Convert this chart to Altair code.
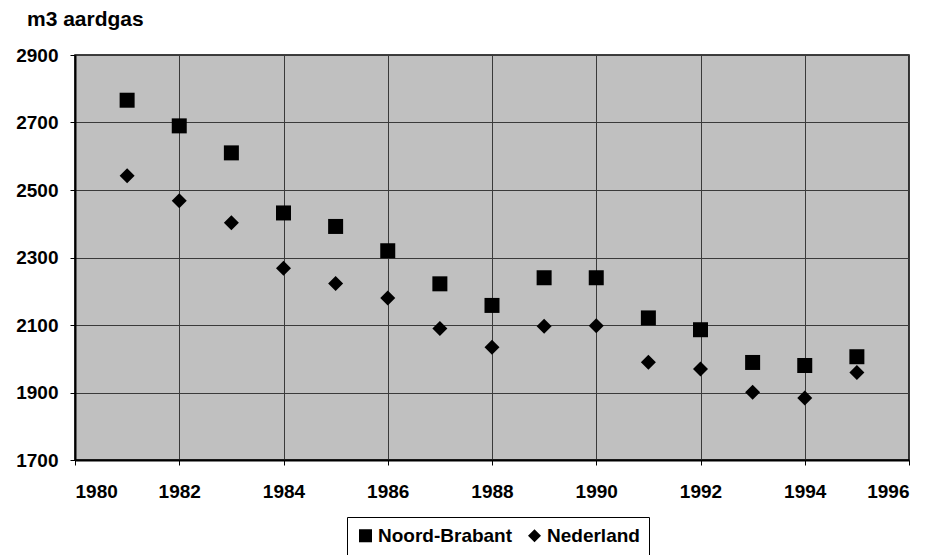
import altair as alt
import pandas as pd

# Gas use per connection (m3 aardgas), 1981-1995
years = list(range(1981, 1996))
noord_brabant = [2766, 2690, 2610, 2432, 2392, 2320, 2222, 2158, 2240, 2240,
                 2121, 2086, 1989, 1980, 2006]
nederland = [2542, 2468, 2403, 2268, 2223, 2180, 2090, 2034, 2096, 2098,
             1990, 1970, 1901, 1884, 1959]
series_names = ["Noord-Brabant", "Nederland"]
x_ticks = list(range(1980, 1997, 2))
y_ticks = list(range(1700, 2901, 200))

df = pd.concat([
    pd.DataFrame({"jaar": years, "m3": noord_brabant, "reeks": series_names[0]}),
    pd.DataFrame({"jaar": years, "m3": nederland, "reeks": series_names[1]}),
])

FONT = "Liberation Sans"

points = alt.Chart(df).mark_point(filled=True, opacity=1, color="black", size=225).encode(
    x=alt.X("jaar:Q",
            scale=alt.Scale(domain=[1980, 1996], nice=False, zero=False),
            axis=alt.Axis(values=x_ticks, format="d", title=None)),
    y=alt.Y("m3:Q",
            scale=alt.Scale(domain=[1700, 2900], nice=False, zero=False),
            axis=alt.Axis(values=y_ticks, format="d", title=None)),
    shape=alt.Shape("reeks:N",
                    scale=alt.Scale(domain=series_names, range=["square", "diamond"]),
                    legend=alt.Legend(title=None, orient="none", direction="horizontal",
                                      legendX=272, legendY=462,
                                      symbolSize=170, symbolFillColor="black",
                                      symbolStrokeColor="black", symbolStrokeWidth=0,
                                      labelFont=FONT, labelFontSize=19, labelFontWeight="bold",
                                      labelColor="black", labelOffset=3, columnPadding=12,
                                      padding=9, strokeColor="black", fillColor="white")),
)

chart = points.properties(
    width=834,
    height=405,
    autosize=alt.AutoSizeParams(type="none"),
    padding={"left": 75, "top": 55, "right": 25, "bottom": 95},
    title=alt.TitleParams(text="m3 aardgas", anchor="start", frame="group", dx=-48,
                          offset=16, font=FONT, fontSize=21, fontWeight="bold",
                          color="black"),
).configure_view(
    fill="#c0c0c0", stroke="black", strokeWidth=1.5
).configure_axis(
    grid=True, gridColor="#3a3a3a", gridWidth=1, gridOpacity=1,
    domain=True, domainColor="black", domainWidth=2,
    ticks=True, tickColor="black", tickSize=5, tickWidth=1,
    labelFont=FONT, labelFontSize=19, labelFontWeight="bold", labelColor="black",
).configure_axisX(labelPadding=17).configure_axisY(labelPadding=12)

chart.save("out.html", embed_options={"renderer": "svg", "actions": False})
